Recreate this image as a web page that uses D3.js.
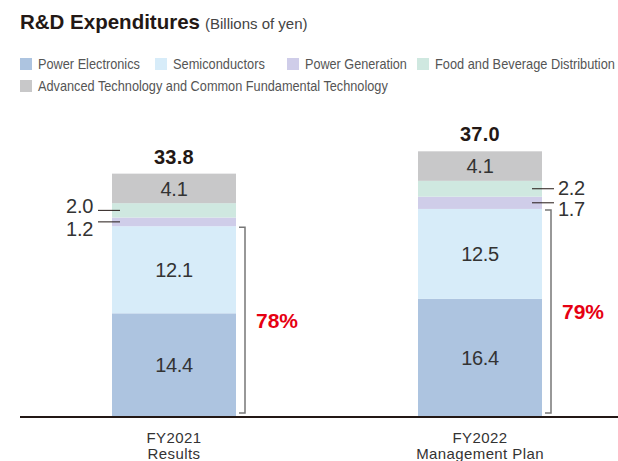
<!DOCTYPE html>
<html>
<head>
<meta charset="utf-8">
<script src="https://cdn.jsdelivr.net/npm/d3@7"></script>
<style>
  body { margin: 0; background: #fff; }
  #chart { width: 618px; height: 461px; }
  text { font-family: "Liberation Sans", Arial, sans-serif; }
</style>
</head>
<body>
<div id="chart"></div>
<script>
var categories = ["FY2021", "FY2022"];
var categorySub = ["Results", "Management Plan"];
var seriesNames = ["Power Electronics", "Semiconductors", "Power Generation",
  "Food and Beverage Distribution", "Advanced Technology and Common Fundamental Technology"];
var powerElectronics = [14.4, 16.4];
var semiconductors = [12.1, 12.5];
var powerGeneration = [1.2, 1.7];
var foodBeverage = [2.0, 2.2];
var advancedTech = [4.1, 4.1];
var totals = ["33.8", "37.0"];
var shares = ["78%", "79%"];

var colors = ["#adc4e0", "#d7ecf9", "#cfcde9", "#cfe8e0", "#c8c8c9"];

var container = d3.select("#chart");
var pxX = 618, pxY = 461;
var svg = container.append("svg").attr("width", pxX).attr("height", pxY);

// --- Title ---
var title = svg.append("text").attr("x", 20).attr("y", 29)
  .attr("fill", "#231815");
title.append("tspan").attr("font-size", 20.5).attr("font-weight", "bold").text("R&D Expenditures");
title.append("tspan").attr("font-size", 15).attr("fill", "#444").attr("dx", 5).text("(Billions of yen)");

// --- Legend (condensed look: each label squeezed horizontally to the reference width) ---
var legendPos = [[20, 58], [155, 58], [287, 58], [417, 58], [20, 80]];
var legendLen = [102, 92, 102, 180, 350];
var lg = svg.append("g").selectAll("g").data(seriesNames).enter().append("g")
  .attr("transform", (d, i) => `translate(${legendPos[i][0]},${legendPos[i][1]})`);
lg.append("rect").attr("width", 12).attr("height", 12).attr("fill", (d, i) => colors[i]);
lg.append("text")
  .attr("font-size", 14).attr("fill", "#555")
  .text(d => d)
  .attr("transform", function(d, i) {
    var w = this.getComputedTextLength();
    return `translate(18,11) scale(${legendLen[i] / w},1)`;
  });

// --- Scales ---
var baseY = 417;
var scX = d3.scalePoint().domain(categories).range([174, 480]);
var scY = d3.scaleLinear().domain([0, 40]).range([baseY, baseY - 288]);
var barW = 124;

var rows = categories.map((c, i) => ({
  cat: c,
  vals: [powerElectronics[i], semiconductors[i], powerGeneration[i], foodBeverage[i], advancedTech[i]]
}));
var stack = d3.stack().keys([0, 1, 2, 3, 4]).value((d, k) => d.vals[k])(rows);

// --- Bars ---
var layers = svg.append("g").selectAll("g").data(stack).enter().append("g")
  .attr("fill", (d, i) => colors[i]);
layers.selectAll("rect").data(d => d).enter().append("rect")
  .attr("x", d => scX(d.data.cat) - barW / 2)
  .attr("width", barW)
  .attr("y", d => scY(d[1]))
  .attr("height", d => scY(d[0]) - scY(d[1]));

// inside labels for big segments
[0, 1, 4].forEach(function(k) {
  svg.append("g").selectAll("text").data(stack[k]).enter().append("text")
    .attr("x", d => scX(d.data.cat))
    .attr("y", d => (scY(d[0]) + scY(d[1])) / 2)
    .attr("dy", "0.36em")
    .attr("text-anchor", "middle")
    .attr("font-size", 20).attr("letter-spacing", -0.3).attr("fill", "#333")
    .text(d => d.data.vals[k].toFixed(1));
});

// totals
svg.append("g").selectAll("text").data(rows).enter().append("text")
  .attr("x", d => scX(d.cat))
  .attr("y", (d, i) => scY(d3.sum(d.vals)) - 10)
  .attr("text-anchor", "middle")
  .attr("font-size", 20).attr("font-weight", "bold").attr("letter-spacing", 0.3)
  .attr("fill", "#231815")
  .text((d, i) => totals[i]);

// small segment callouts: bar 1 on left, bar 2 on right
var calloutOffset = [[-5, 6.5], [-1, 6]]; // label offsets per bar: [food, power gen]
[3, 2].forEach(function(k, j) {
  stack[k].forEach(function(d, i) {
    var cx = scX(d.data.cat);
    var my = (scY(d[0]) + scY(d[1])) / 2;
    var left = i === 0;
    var x1 = left ? cx - barW / 2 - 14 : cx + barW / 2 - 10;
    svg.append("line")
      .attr("x1", x1).attr("x2", x1 + 22)
      .attr("y1", my).attr("y2", my)
      .attr("stroke", "#231815").attr("stroke-width", 1);
    svg.append("text")
      .attr("x", left ? x1 - 5 : x1 + 26)
      .attr("y", my + calloutOffset[i][j])
      .attr("dy", "0.36em")
      .attr("text-anchor", left ? "end" : "start")
      .attr("font-size", 20).attr("letter-spacing", -0.3).attr("fill", "#333")
      .text(d.data.vals[k].toFixed(1));
  });
});

// brackets + share labels
stack[1].forEach(function(d, i) {
  var bx = scX(d.data.cat) + barW / 2 + 9;
  var top = scY(d[1]) + 1, bot = baseY - 4;
  svg.append("path")
    .attr("d", `M${bx - 6},${top}H${bx}V${bot}H${bx - 6}`)
    .attr("fill", "none").attr("stroke", "#777").attr("stroke-width", 1.5);
  svg.append("text")
    .attr("x", bx + 11).attr("y", (top + bot) / 2)
    .attr("dy", "0.36em")
    .attr("font-size", 21).attr("font-weight", "bold").attr("fill", "#e60012")
    .text(shares[i]);
});

// baseline
svg.append("line").attr("x1", 20).attr("x2", pxX).attr("y1", baseY).attr("y2", baseY)
  .attr("stroke", "#231815").attr("stroke-width", 2);

// category labels
var cl = svg.append("g").selectAll("text").data(categories).enter().append("text")
  .attr("x", d => scX(d)).attr("y", 443)
  .attr("text-anchor", "middle").attr("font-size", 15).attr("letter-spacing", 0.4)
  .attr("fill", "#333");
cl.append("tspan").text(d => d);
cl.append("tspan").attr("x", d => scX(d)).attr("dy", 16).text((d, i) => categorySub[i]);
</script>
</body>
</html>
